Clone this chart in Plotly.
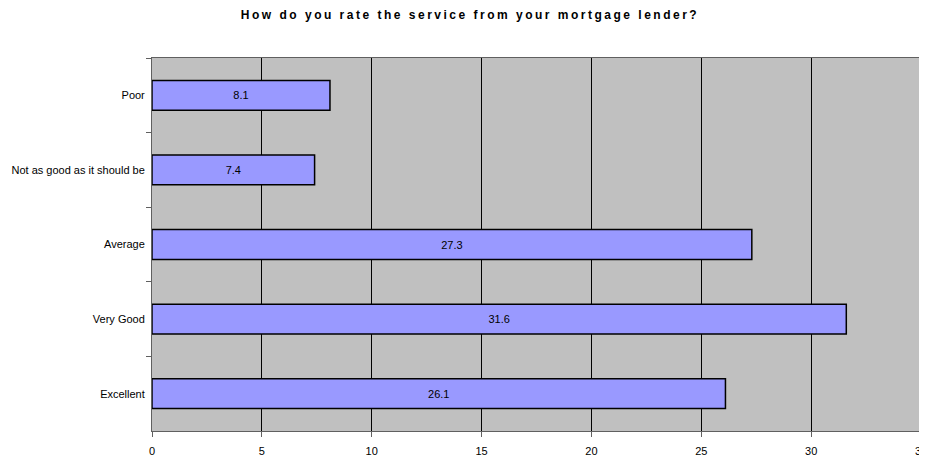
import plotly.graph_objects as go

categories = ["Poor", "Not as good as it should be", "Average", "Very Good", "Excellent"]
values = [8.1, 7.4, 27.3, 31.6, 26.1]
x_ticks = [0, 5, 10, 15, 20, 25, 30, 35]
title = "How do you rate the service from your mortgage lender?"

# page body has an 8px margin; size the figure so the chart lands at the reference pixels
W, H = 927, 454

fig = go.Figure()
fig.add_trace(go.Bar(
    y=categories, x=values, orientation="h",
    marker=dict(color="#9999FF", line=dict(color="#000000", width=1.5)),
    text=[f"{v:.1f}" for v in values], textposition="inside",
    insidetextanchor="middle", textangle=0,
    textfont=dict(family="Liberation Sans, Arial", size=11, color="#000000"),
    width=0.4, hoverinfo="skip",
))

fig.update_layout(
    width=W, height=H,
    margin=dict(l=144, r=14, t=50, b=31, autoexpand=False),
    paper_bgcolor="white", plot_bgcolor="#C0C0C0",
    showlegend=False,
    title=dict(text=f"<b>{title}</b>", x=(470 - 8) / W, xanchor="center",
               xref="container", y=1 - 7 / H, yanchor="middle", yref="container",
               font=dict(family="Liberation Sans, Arial", size=12, color="#000000")),
    font=dict(family="Liberation Sans, Arial", size=11, color="#000000"),
)
fig.update_xaxes(
    range=[0, 35], tickvals=x_ticks, ticktext=[str(t) for t in x_ticks],
    showgrid=True, gridcolor="#000000", gridwidth=1,
    showline=True, linecolor="#606060", linewidth=1, mirror=True,
    ticks="outside", ticklen=5, tickcolor="#606060", automargin=False,
    ticklabeloverflow="allow",
    tickfont=dict(size=11), ticklabelstandoff=5, zeroline=False, fixedrange=True,
)
fig.update_yaxes(
    categoryorder="array", categoryarray=categories, autorange="reversed",
    showgrid=False, showline=True, linecolor="#606060", linewidth=1, mirror=True,
    ticks="outside", ticklen=5, tickcolor="#606060", tickson="boundaries",
    automargin=False, tickfont=dict(size=11), ticklabelstandoff=4, fixedrange=True,
)
fig.write_html(
    "out.html",
    post_script="document.querySelectorAll('.gtitle').forEach(function(e){e.style.letterSpacing='2.5px';});",
)
